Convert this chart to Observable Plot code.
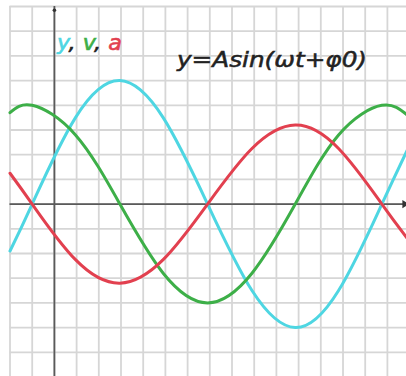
<!DOCTYPE html>
<html>
<head>
<meta charset="utf-8">
<script src="https://cdn.jsdelivr.net/npm/d3@7"></script>
<script src="https://cdn.jsdelivr.net/npm/@observablehq/plot@0.6"></script>
<style>
  html, body { margin: 0; padding: 0; background: #fff; }
  #chart svg { display: block; }
</style>
</head>
<body>
<div id="chart"></div>
<script>
// Sample points (time t in grid units, value in grid units)
const tKnots = [-2, -1, 0.95, 2.95, 4.9, 6.9, 8.9, 10.85, 12.8, 14.75, 15.9];
const yDisp  = [-1.9, 0, 3.5, 5, 3.5, 0, -3.5, -5, -3.5, 0, 2.2];
const vVel   = [3.7, 4, 2.8, 0, -2.8, -4, -2.8, 0, 2.8, 4, 3.6];
const aAcc   = [1.25, 0, -2.25, -3.2, -2.25, 0, 2.25, 3.2, 2.25, 0, -1.4];

// Grid lines (grid units)
const gridT = d3.range(-2, 16, 1);
const gridV = d3.range(-6, 9, 1);

const seriesNames = ["y", "v", "a"];
const seriesColors = ["#4ed6e2", "#3daf48", "#e2404f"];
const formula = "y=Asin(ωt+φ0)";

const tMin = -2, tMax = 15.86, vMin = -6.98, vMax = 8;

const rows = [];
[yDisp, vVel, aAcc].forEach((arr, i) => {
  arr.forEach((v, j) => rows.push({t: tKnots[j], value: v, s: seriesNames[i]}));
});

const plot = Plot.plot({
  width: 406,
  height: 376,
  margin: 0,
  style: {background: "#fff"},
  x: {domain: [tMin, tMax], range: [9.5, 406], axis: null},
  y: {domain: [vMin, vMax], range: [376, 6], axis: null},
  color: {domain: seriesNames, range: seriesColors},
  marks: [
    Plot.ruleX(gridT, {y1: vMin, y2: vMax, stroke: "#d6d6d6", strokeWidth: 1.8}),
    Plot.ruleY(gridV, {x1: tMin, x2: tMax, stroke: "#d6d6d6", strokeWidth: 1.8}),
    Plot.ruleX([0], {y1: vMin, y2: vMax, stroke: "#5a5a5a", strokeWidth: 1.8}),
    Plot.ruleY([0], {x1: tMin, x2: tMax, stroke: "#5a5a5a", strokeWidth: 1.8}),
    Plot.dot([0], {x: 15.78, y: 0, symbol: "triangle", r: 3, rotate: 90, fill: "#333", stroke: null}),
    Plot.dot([0], {x: 0, y: 7.85, r: 1.8, fill: "#333", stroke: null}),
    Plot.line(rows, {x: "t", y: "value", z: "s", stroke: "s", strokeWidth: 3, curve: "natural", clip: true})
  ]
});

const svg = d3.select(plot);
const label = svg.append("text")
  .attr("x", 57).attr("y", 50)
  .attr("text-anchor", "start")
  .attr("font-family", "DejaVu Sans")
  .attr("font-style", "italic")
  .attr("font-size", 21)
  .attr("textLength", 65)
  .attr("lengthAdjust", "spacingAndGlyphs");
const parts = [["y", seriesColors[0]], [", ", "#222"], ["v", seriesColors[1]], [", ", "#222"], ["a", seriesColors[2]]];
parts.forEach(([txt, col]) => label.append("tspan").attr("fill", col).attr("stroke", col).attr("stroke-width", 0.6).text(txt));

svg.append("text")
  .attr("x", 177).attr("y", 67)
  .attr("text-anchor", "start")
  .attr("font-family", "DejaVu Sans")
  .attr("font-style", "italic")
  .attr("font-size", 21)
  .attr("fill", "#222").attr("stroke", "#222").attr("stroke-width", 0.5)
  .attr("textLength", 190)
  .attr("lengthAdjust", "spacingAndGlyphs")
  .text(formula);

document.getElementById("chart").appendChild(plot);
</script>
</body>
</html>
